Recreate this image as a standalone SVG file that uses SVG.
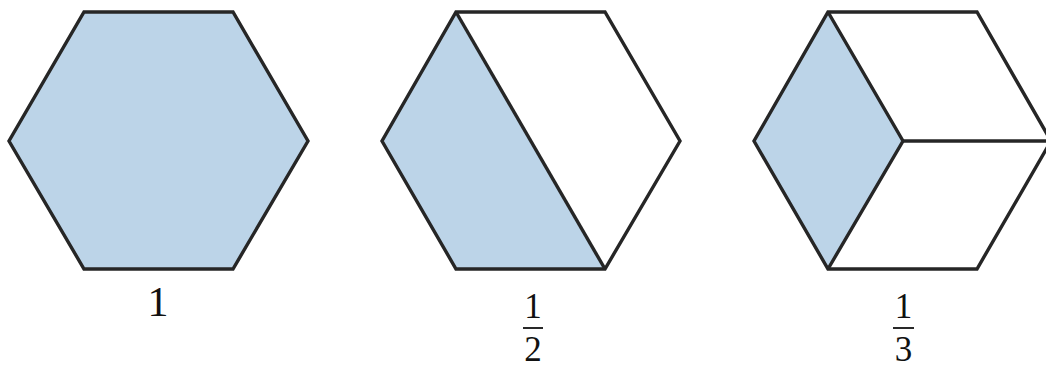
<svg xmlns="http://www.w3.org/2000/svg" width="1046" height="368" viewBox="0 0 1046 368">
<style>
.edge{fill:none;stroke:#262626;stroke-width:3.4;stroke-linejoin:miter}
.shade{fill:#bcd4e8;stroke:none}
.lbl{font-family:'Liberation Serif','Times New Roman',serif;fill:#111;text-anchor:middle}
.bar{stroke:#111;stroke-width:1.8}
</style>
<rect width="1046" height="368" fill="#fff"/>
<g id="hex-whole">
<polygon class="shade" points="84,12 233,12 308,141 233,269 84,269 9,141"/>
<polygon class="edge" points="84,12 233,12 308,141 233,269 84,269 9,141"/>
<text class="lbl" x="158" y="316" font-size="42">1</text>
</g>
<g id="hex-half">
<polygon class="shade" points="456,12 605,269 456,269 382,141"/>
<polygon class="edge" points="456,12 605,12 680,141 605,269 456,269 382,141"/>
<line class="edge" x1="456" y1="12" x2="605" y2="269"/>
<text class="lbl" x="533" y="318" font-size="35">1</text>
<line class="bar" x1="523" y1="328" x2="543" y2="328"/>
<text class="lbl" x="533" y="361" font-size="35">2</text>
</g>
<g id="hex-third">
<polygon class="shade" points="828,12 903,141 828,269 754,141"/>
<polygon class="edge" points="828,12 977,12 1051,141 977,269 828,269 754,141"/>
<polyline class="edge" points="828,12 903,141 828,269"/>
<line class="edge" x1="903" y1="141" x2="1050" y2="141"/>
<text class="lbl" x="903.5" y="318" font-size="35">1</text>
<line class="bar" x1="893" y1="328" x2="914" y2="328"/>
<text class="lbl" x="903.5" y="361" font-size="35">3</text>
</g>
</svg>
